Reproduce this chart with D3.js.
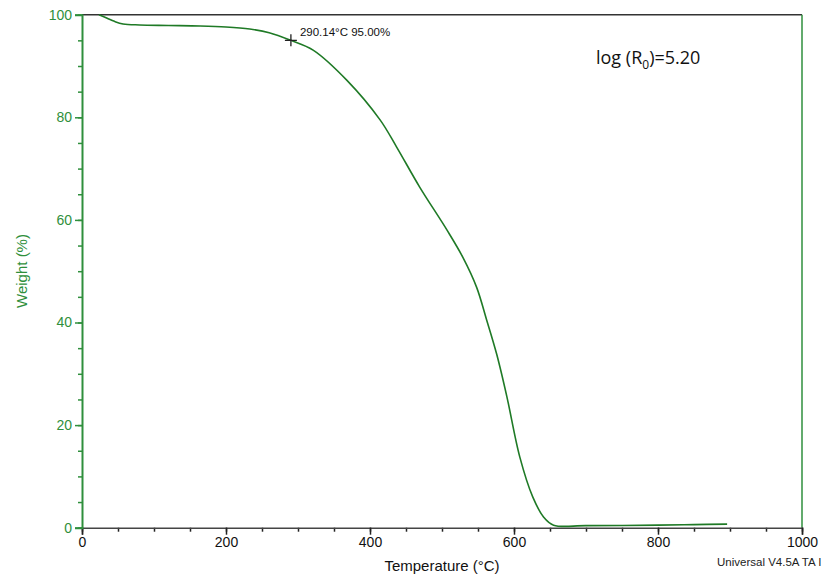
<!DOCTYPE html>
<html>
<head>
<meta charset="utf-8">
<script src="https://cdn.jsdelivr.net/npm/d3@7"></script>
<style>
  body { margin: 0; background: #fff; overflow: hidden; }
  svg { display: block; }
</style>
</head>
<body>
<svg id="chart" width="821" height="577"></svg>
<script>
// TGA curve
const temperature = [23.6, 35, 45, 57, 80, 120, 164, 200, 233, 260, 290.14, 321, 368, 414, 437, 469, 507, 529, 548, 562, 576, 590, 608, 626, 641, 655, 700, 800, 850, 896];
const weight = [100, 99.3, 98.7, 98.2, 98.0, 97.9, 97.8, 97.6, 97.2, 96.5, 95.0, 93.1, 87.2, 79.5, 74.2, 66.4, 58.0, 52.7, 46.9, 40.5, 33.8, 25.6, 13.8, 6.0, 2.1, 0.5, 0.4, 0.5, 0.6, 0.7];
const xTicks = [0, 200, 400, 600, 800, 1000];
const yTicks = [0, 20, 40, 60, 80, 100];
const marker = { t: 290.14, w: 95.0, label: "290.14°C 95.00%" };

const green = "#2f8f3c";
const curveGreen = "#1f7a26";
const font = "Liberation Sans, Arial, sans-serif";

const svg = d3.select("#chart");
const x = d3.scaleLinear().domain([0, 1000]).range([82, 802]);
const y = d3.scaleLinear().domain([0, 100]).range([527.7, 14.7]);

// frame: top and right
svg.append("line")
  .attr("x1", x(0)).attr("x2", x(1000))
  .attr("y1", y(100)).attr("y2", y(100))
  .attr("stroke", "#333").attr("stroke-width", 1.5);
svg.append("line")
  .attr("x1", x(1000)).attr("x2", x(1000))
  .attr("y1", y(100)).attr("y2", y(0))
  .attr("stroke", green).attr("stroke-width", 1.5);

// x axis
const xAxis = svg.append("g").attr("transform", `translate(0,${y(0)})`);
xAxis.append("g")
  .call(d3.axisBottom(x).tickValues(d3.range(0, 1001, 50)).tickSize(4).tickFormat(""))
  .call(g => g.select(".domain").remove())
  .selectAll("line").attr("stroke", "#222").attr("stroke-width", 1.5);
xAxis.append("g")
  .call(d3.axisBottom(x).tickValues(xTicks).tickSize(7).tickPadding(2).tickFormat(d3.format("d")))
  .call(g => g.select(".domain").attr("stroke", "#444").attr("stroke-width", 1.5))
  .call(g => g.selectAll("line").attr("stroke", "#222").attr("stroke-width", 1.5))
  .call(g => g.selectAll("text")
    .attr("fill", "#111")
    .style("font-family", font)
    .style("font-size", "14px"));

// y axis
const yAxis = svg.append("g").attr("transform", `translate(${x(0)},0)`);
yAxis.append("g")
  .call(d3.axisLeft(y).tickValues(d3.range(0, 101, 5)).tickSize(4).tickFormat(""))
  .call(g => g.select(".domain").remove())
  .selectAll("line").attr("stroke", green).attr("stroke-width", 1.5);
yAxis.append("g")
  .call(d3.axisLeft(y).tickValues(yTicks).tickSize(7).tickPadding(3))
  .call(g => g.select(".domain").attr("stroke", green).attr("stroke-width", 2))
  .call(g => g.selectAll("line").attr("stroke", green).attr("stroke-width", 1.5))
  .call(g => g.selectAll("text")
    .attr("fill", green)
    .style("font-family", font)
    .style("font-size", "14px"));

// axis titles
svg.append("text")
  .attr("x", 442).attr("y", 571)
  .attr("text-anchor", "middle")
  .style("font-family", font)
  .style("font-size", "15px")
  .attr("fill", "#111")
  .text("Temperature (°C)");
svg.append("text")
  .attr("transform", "translate(27,271) rotate(-90)")
  .attr("text-anchor", "middle")
  .style("font-family", font)
  .style("font-size", "15px")
  .attr("fill", green)
  .text("Weight (%)");

// curve
const pts = temperature.map((t, i) => [t, weight[i]]);
svg.append("path")
  .datum(pts)
  .attr("fill", "none")
  .attr("stroke", curveGreen)
  .attr("stroke-width", 1.6)
  .attr("d", d3.line().x(d => x(d[0])).y(d => y(d[1])).curve(d3.curveCatmullRom.alpha(0.5)));

// marker cross + label
const mx = x(marker.t), my = y(marker.w);
svg.append("path")
  .attr("d", `M${mx - 6},${my}H${mx + 6}M${mx},${my - 6}V${my + 6}`)
  .attr("stroke", "#222").attr("stroke-width", 1.3);
svg.append("text")
  .attr("x", mx + 9).attr("y", my - 4)
  .style("font-family", font)
  .style("font-size", "11.5px")
  .attr("fill", "#111")
  .text(marker.label);

// log(R0) note
const note = svg.append("text")
  .attr("x", 596).attr("y", 64)
  .style("font-family", "Open Sans, sans-serif")
  .style("font-size", "18px")
  .attr("fill", "#111");
note.append("tspan").text("log (R");
note.append("tspan").attr("dy", 5).style("font-size", "12px").text("0");
note.append("tspan").attr("dy", -5).text(")=5.20");

// instrument footer, cut by the right edge as in the original
svg.append("text")
  .attr("x", 717).attr("y", 566)
  .style("font-family", font)
  .style("font-size", "11.5px")
  .attr("fill", "#222")
  .text("Universal V4.5A TA Instruments");
</script>
</body>
</html>
